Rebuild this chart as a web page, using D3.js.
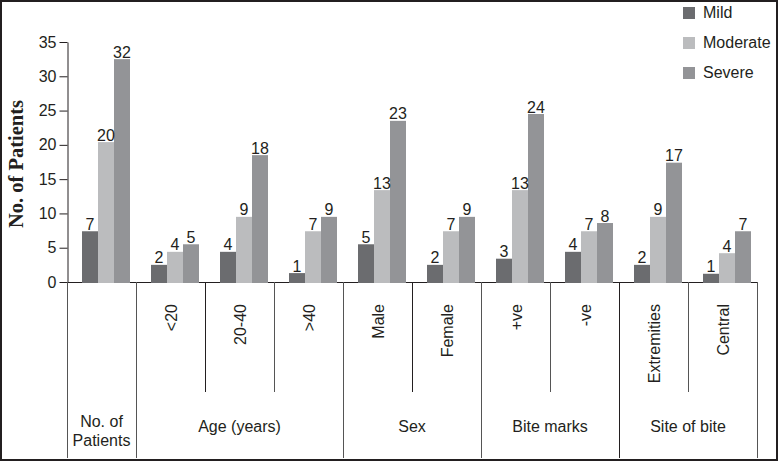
<!DOCTYPE html>
<html>
<head>
<meta charset="utf-8">
<script src="https://cdn.jsdelivr.net/npm/d3@7"></script>
<style>
  body { margin: 0; background: #fff; }
  svg { display: block; font-family: "Liberation Sans", Arial, sans-serif; }
</style>
</head>
<body>
<div id="chart"></div>
<script>
// categories along the x axis
const categories = ["No. of Patients", "<20", "20-40", ">40", "Male", "Female", "+ve", "-ve", "Extremities", "Central"]
// sub labels drawn rotated under the axis ("" = none)
const subLabels = ["", "<20", "20-40", ">40", "Male", "Female", "+ve", "-ve", "Extremities", "Central"]
// groups of categories in the lower table
const groups = [
  { name: ["No. of", "Patients"], from: 0, to: 0 },
  { name: ["Age (years)"], from: 1, to: 3 },
  { name: ["Sex"], from: 4, to: 5 },
  { name: ["Bite marks"], from: 6, to: 7 },
  { name: ["Site of bite"], from: 8, to: 9 }
]
const series = ["Mild", "Moderate", "Severe"]
const colors = ["#6b6c6f", "#bbbcbe", "#939497"]

// bar heights as drawn in the picture
const mild     = [7.4, 2.5, 4.4, 1.3, 5.5, 2.5, 3.4, 4.4, 2.5, 1.2]
const moderate = [20.4, 4.4, 9.5, 7.4, 13.4, 7.4, 13.4, 7.4, 9.5, 4.2]
const severe   = [32.5, 5.5, 18.5, 9.5, 23.5, 9.5, 24.5, 8.6, 17.4, 7.4]
// value labels printed above the bars
const mildLbl     = [7, 2, 4, 1, 5, 2, 3, 4, 2, 1]
const moderateLbl = [20, 4, 9, 7, 13, 7, 13, 7, 9, 4]
const severeLbl   = [32, 5, 18, 9, 23, 9, 24, 8, 17, 7]

const yTicks = [0, 5, 10, 15, 20, 25, 30, 35]

const width = 779, height = 463
const ink = "#231f20"

const svg = d3.select("#chart").append("svg")
    .attr("width", width)
    .attr("height", height)

// frame
svg.append("rect")
    .attr("x", 1).attr("y", 1)
    .attr("width", width - 3).attr("height", height - 4)
    .attr("fill", "none")
    .attr("stroke", ink)
    .attr("stroke-width", 2)

const x0 = d3.scaleBand().domain(d3.range(categories.length)).range([67, 757])
const x1 = d3.scaleBand().domain(series).range([15, 63])
const y = d3.scaleLinear().domain([0, 35]).range([282, 42])

// y axis
const yAxis = d3.axisLeft(y).tickValues(yTicks).tickSize(8).tickSizeOuter(0)
svg.append("g")
    .attr("transform", "translate(67.5,0)")
    .call(yAxis)
    .call(g => g.select(".domain").attr("stroke", ink))
    .call(g => g.selectAll(".tick line").attr("stroke", ink))
    .call(g => g.selectAll(".tick text")
        .attr("fill", ink)
        .attr("font-size", 16)
        .attr("font-family", "Liberation Sans, Arial, sans-serif")
        .attr("x", -11))

svg.append("text")
    .attr("transform", "translate(23,164) rotate(-90)")
    .attr("text-anchor", "middle")
    .attr("font-family", "Liberation Serif, Times New Roman, serif")
    .attr("font-weight", "bold")
    .attr("font-size", 20.5)
    .attr("fill", ink)
    .text("No. of Patients")

// baseline
svg.append("line")
    .attr("x1", 67).attr("x2", 757)
    .attr("y1", 282.5).attr("y2", 282.5)
    .attr("stroke", ink)

// bars
const table = categories.map((c, i) => ({
  i,
  vals: [mild[i], moderate[i], severe[i]],
  lbls: [mildLbl[i], moderateLbl[i], severeLbl[i]]
}))

const gBars = svg.selectAll(".grp")
  .data(table)
  .join("g")
    .attr("class", "grp")
    .attr("transform", d => `translate(${x0(d.i)},0)`)

gBars.selectAll("rect")
  .data(d => d.vals.map((v, k) => ({ v, k, l: d.lbls[k] })))
  .join("rect")
    .attr("x", d => x1(series[d.k]))
    .attr("width", x1.bandwidth())
    .attr("y", d => y(d.v))
    .attr("height", d => y(0) + 1 - y(d.v))
    .attr("fill", d => colors[d.k])

gBars.selectAll("text")
  .data(d => d.vals.map((v, k) => ({ v, k, l: d.lbls[k] })))
  .join("text")
    .attr("x", d => x1(series[d.k]) + x1.bandwidth() / 2)
    .attr("y", d => y(d.v) - 1.5)
    .attr("text-anchor", "middle")
    .attr("font-size", 16)
    .attr("fill", ink)
    .text(d => d.l)

// lower table lines
const longIdx = [0, 1, 4, 6, 8, 10]
const edge = i => i < categories.length ? x0(i) : x0.range()[1]
d3.range(categories.length + 1).forEach(i => {
  const xx = Math.round(edge(i)) + 0.5
  svg.append("line")
      .attr("x1", xx).attr("x2", xx)
      .attr("y1", 282).attr("y2", longIdx.includes(i) ? 458 : 392)
      .attr("stroke", i % 3 === 2 ? ink : "#555")
})

// rotated sub labels
svg.selectAll(".sub")
  .data(subLabels.map((s, i) => ({ s, i })).filter(d => d.s))
  .join("text")
    .attr("class", "sub")
    .attr("transform", d => `translate(${x0(d.i) + x0.bandwidth() / 2 + 6},304) rotate(-90)`)
    .attr("text-anchor", "end")
    .attr("font-size", 16)
    .attr("fill", ink)
    .text(d => d.s)

// group labels
groups.forEach(g => {
  const cx = (x0(g.from) + x0(g.to) + x0.bandwidth()) / 2
  const t = svg.append("text")
      .attr("text-anchor", "middle")
      .attr("font-size", 16)
      .attr("fill", ink)
  const y0 = g.name.length > 1 ? 427 : 432
  g.name.forEach((line, k) => {
    t.append("tspan").attr("x", cx).attr("y", y0 + k * 19).text(line)
  })
})

// legend
const legend = svg.append("g").attr("transform", "translate(683,0)")
series.forEach((s, k) => {
  const by = 18 + k * 30
  legend.append("rect")
      .attr("x", 0).attr("y", by - 11)
      .attr("width", 12).attr("height", 12)
      .attr("fill", colors[k])
  legend.append("text")
      .attr("x", 20).attr("y", by)
      .attr("font-size", 16)
      .attr("fill", ink)
      .text(s)
})
</script>
</body>
</html>
